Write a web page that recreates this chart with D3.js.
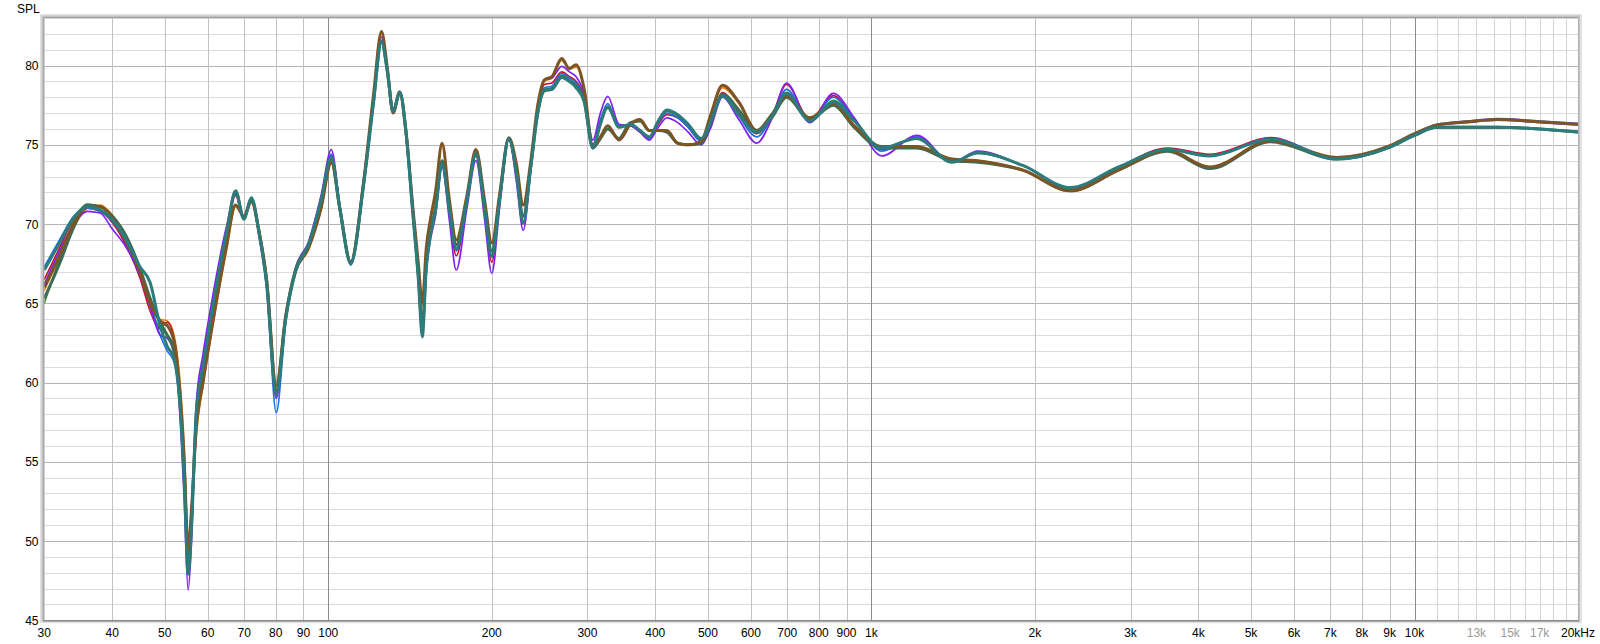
<!DOCTYPE html>
<html>
<head>
<meta charset="utf-8">
<script src="https://cdn.jsdelivr.net/npm/d3@7"></script>
<style>
  body { margin: 0; background: #fff; }
  text { font-family: "Liberation Sans", Arial, sans-serif; font-size: 12px; fill: #000; }
</style>
</head>
<body>
<script>
// frecuencias comunes a todas las medidas (Hz)
var freqs = [
  30, 32, 34, 36, 38, 40, 42.5, 45,
  47, 49, 50.5, 52, 53.2, 54.3, 55.2, 56,
  57.1, 58.8, 61.3, 64.9, 67.5, 69.9, 72.2, 74.5,
  77, 80.2, 83.5, 87, 92, 97, 101.3, 105,
  110, 116, 121, 125.3, 128.5, 131.6, 135.4, 139,
  143, 146.5, 149, 151.5, 154, 157.5, 162, 167,
  172, 180, 187, 194, 200, 207, 215, 222,
  228.5, 236, 243, 250, 258, 269, 278, 286,
  296, 307, 317, 327, 343, 360, 375, 390,
  405, 420, 440, 460, 486, 505, 532, 570,
  615, 655, 698, 770, 851, 930, 1045, 1213,
  1407, 1570, 1900, 2324, 2850, 3511, 4200, 5430,
  7200, 8936, 10000, 11000, 12500, 14200, 17000, 20000
]

// SPL (dB) de cada medida
var orange = [
  65.8, 67.9, 69.8, 71.0, 71.2, 70.6, 69.1, 67.1,
  65.2, 64.0, 63.9, 63.0, 60.5, 56.0, 50.0, 52.0,
  56.5, 59.8, 63.6, 68.3, 71.1, 70.5, 71.4, 69.7,
  66.7, 60.0, 64.3, 67.0, 68.4, 70.9, 73.8, 71.0,
  67.6, 72.5, 78.0, 82.0, 79.8, 77.0, 78.3, 75.8,
  71.2, 67.4, 64.8, 68.4, 70.1, 71.9, 75.0, 71.6,
  69.0, 71.8, 74.7, 71.5, 68.8, 72.0, 75.45, 73.8,
  71.2, 74.0, 77.5, 79.0, 79.2, 80.3, 79.8, 79.9,
  78.5, 74.9, 75.5, 76.2, 75.3, 76.3, 76.6, 75.9,
  75.9, 75.9, 75.1, 75.0, 75.2, 76.8, 78.6, 77.6,
  75.9, 76.9, 78.2, 76.7, 77.6, 76.2, 74.9, 74.9,
  74.1, 74.0, 73.4, 72.1, 73.4, 74.6, 73.6, 75.25,
  74.2, 74.9, 75.7, 76.25, 76.45, 76.6, 76.45, 76.3
]
var green = [
  65.0, 67.8, 70.2, 71.25, 71.1, 70.5, 69.0, 67.0,
  64.8, 63.4, 63.0, 62.3, 59.5, 54.8, 49.5, 51.8,
  57.4, 60.6, 64.3, 69.0, 72.1, 70.3, 71.6, 69.6,
  66.4, 59.4, 64.2, 67.1, 68.8, 71.5, 74.3, 71.0,
  67.5, 72.3, 77.5, 81.5, 79.6, 77.1, 78.3, 75.8,
  70.8, 66.6, 63.1, 67.2, 69.2, 70.8, 73.8, 71.0,
  68.4, 71.5, 74.4, 71.0, 68.0, 71.7, 75.4, 73.2,
  70.1, 73.6, 77.0, 78.5, 78.6, 79.4, 79.1, 78.8,
  77.8, 74.9, 76.4, 77.3, 76.1, 76.3, 75.9, 75.5,
  76.5, 77.1, 76.8, 76.2, 75.4, 76.4, 78.1, 76.9,
  75.8, 76.8, 78.3, 76.5, 77.8, 76.6, 74.8, 75.4,
  73.9, 74.45, 73.7, 72.3, 73.6, 74.7, 74.3, 75.35,
  74.1, 74.8, 75.6, 76.1, 76.1, 76.1, 76.0, 75.8
]
var red = [
  66.5, 68.5, 70.3, 71.0, 70.8, 70.1, 68.6, 66.6,
  64.5, 63.4, 63.8, 62.8, 59.5, 54.0, 48.5, 51.2,
  57.8, 61.0, 64.6, 69.2, 71.8, 70.3, 71.5, 69.4,
  66.2, 59.3, 64.1, 67.0, 68.7, 71.6, 74.4, 71.1,
  67.5, 72.3, 77.6, 81.6, 79.6, 77.0, 78.3, 75.8,
  70.8, 66.6, 63.2, 67.2, 69.1, 70.7, 73.7, 70.7,
  68.0, 71.3, 74.3, 70.7, 67.6, 71.5, 75.4, 73.0,
  70.0, 73.5, 77.1, 78.8, 78.9, 79.6, 79.3, 79.0,
  78.0, 75.0, 76.5, 77.4, 76.1, 76.2, 75.8, 75.4,
  76.3, 76.9, 76.7, 76.1, 75.3, 76.3, 78.3, 77.0,
  75.7, 76.8, 78.8, 76.6, 78.1, 76.6, 74.7, 75.4,
  73.9, 74.5, 73.7, 72.2, 73.6, 74.8, 74.4, 75.45,
  74.1, 74.8, 75.6, 76.1, 76.1, 76.1, 76.0, 75.8
]
var blue = [
  67.3, 69.0, 70.5, 71.0, 70.8, 70.2, 68.8, 66.8,
  65.0, 63.0, 62.0, 61.3, 58.8, 53.5, 48.3, 50.5,
  58.2, 61.3, 65.0, 69.5, 71.95, 70.3, 71.7, 69.5,
  66.1, 58.1, 63.8, 67.0, 68.8, 71.7, 74.4, 71.1,
  67.4, 72.3, 77.5, 81.6, 79.6, 77.0, 78.3, 75.8,
  70.8, 66.4, 62.8, 67.1, 69.1, 70.7, 73.8, 70.9,
  68.3, 71.4, 74.4, 70.9, 67.9, 71.6, 75.4, 73.1,
  70.0, 73.5, 77.0, 78.6, 78.7, 79.5, 79.2, 78.9,
  77.9, 75.0, 76.6, 77.6, 76.2, 76.2, 75.9, 75.4,
  76.4, 77.0, 76.7, 76.1, 75.2, 76.2, 78.2, 76.8,
  75.5, 76.7, 78.5, 76.5, 78.0, 76.6, 74.6, 75.5,
  73.9, 74.55, 73.7, 72.3, 73.6, 74.7, 74.3, 75.4,
  74.2, 74.9, 75.7, 76.3, 76.5, 76.65, 76.5, 76.35
]
var purple = [
  66.2, 68.3, 70.0, 70.8, 70.7, 69.7, 68.5, 66.8,
  64.8, 63.0, 62.8, 61.8, 58.5, 52.5, 46.9, 50.0,
  58.6, 61.8, 65.5, 69.8, 71.9, 70.4, 71.5, 69.3,
  66.0, 59.0, 64.0, 67.2, 68.9, 71.8, 74.7, 71.2,
  67.5, 72.3, 77.6, 81.8, 79.6, 77.0, 78.3, 75.8,
  70.8, 66.7, 63.5, 67.0, 68.9, 70.5, 73.6, 70.3,
  67.1, 71.0, 74.0, 70.3, 66.9, 71.2, 75.4, 72.7,
  69.6, 73.4, 77.2, 79.1, 79.2, 79.95, 79.6, 79.3,
  78.2, 75.3, 77.0, 78.05, 76.3, 76.2, 75.8, 75.3,
  76.1, 76.7, 76.4, 75.8, 75.0, 76.0, 78.0, 76.6,
  75.1, 76.6, 78.9, 76.4, 78.25, 76.7, 74.3, 75.6,
  73.9, 74.6, 73.7, 72.3, 73.5, 74.7, 74.3, 75.4,
  74.1, 74.8, 75.6, 76.2, 76.4, 76.55, 76.4, 76.25
]
var olive = [
  65.3, 67.5, 69.8, 71.2, 71.1, 70.5, 69.2, 67.2,
  65.3, 63.8, 63.0, 62.0, 59.3, 54.5, 49.0, 51.5,
  57.5, 60.5, 64.3, 69.0, 72.1, 70.4, 71.6, 69.6,
  66.4, 59.5, 64.2, 67.1, 68.7, 71.4, 74.1, 71.0,
  67.6, 72.4, 77.6, 81.5, 79.6, 77.1, 78.35, 75.9,
  70.9, 66.8, 63.5, 67.5, 69.4, 71.0, 74.0, 71.2,
  68.7, 71.6, 74.5, 71.2, 68.3, 71.8, 75.4, 73.4,
  70.5, 73.7, 77.0, 78.4, 78.5, 79.3, 79.0, 78.7,
  77.8, 74.8, 75.4, 76.0, 75.4, 76.4, 76.5, 75.9,
  75.9, 75.8, 75.1, 75.0, 75.1, 76.3, 78.2, 77.2,
  75.9, 76.7, 78.0, 76.6, 77.5, 76.1, 74.8, 74.8,
  74.0, 73.9, 73.4, 72.1, 73.4, 74.6, 73.5, 75.2,
  74.1, 74.8, 75.6, 76.1, 76.1, 76.1, 76.0, 75.8
]
var brown = [
  66.0, 68.0, 70.0, 71.1, 71.1, 70.4, 68.9, 67.0,
  65.0, 63.9, 63.6, 62.6, 59.8, 55.0, 49.5, 52.0,
  57.0, 60.0, 63.8, 68.5, 71.2, 70.5, 71.4, 69.6,
  66.5, 59.8, 64.2, 67.0, 68.5, 71.0, 73.9, 71.0,
  67.6, 72.5, 78.0, 82.15, 79.8, 77.0, 78.3, 75.8,
  71.2, 67.5, 65.0, 68.5, 70.2, 72.0, 75.1, 71.6,
  69.0, 71.8, 74.7, 71.5, 68.8, 72.0, 75.45, 73.8,
  71.2, 74.0, 77.5, 79.1, 79.3, 80.45, 79.8, 80.05,
  78.5, 74.9, 75.5, 76.2, 75.3, 76.3, 76.6, 75.9,
  75.9, 75.9, 75.1, 75.0, 75.2, 76.8, 78.75, 77.7,
  75.9, 76.9, 78.1, 76.7, 77.6, 76.2, 74.9, 74.9,
  74.1, 74.0, 73.4, 72.1, 73.4, 74.65, 73.6, 75.25,
  74.2, 74.9, 75.7, 76.25, 76.45, 76.6, 76.45, 76.3
]
var teal = [
  67.1, 68.8, 70.4, 71.1, 70.9, 70.3, 69.0, 67.3,
  66.3, 63.6, 62.3, 61.5, 59.0, 53.8, 47.9, 50.8,
  58.0, 61.0, 64.8, 69.4, 72.05, 70.3, 71.65, 69.5,
  66.2, 59.2, 64.0, 67.0, 68.7, 71.5, 74.2, 71.0,
  67.5, 72.3, 77.5, 81.5, 79.6, 77.1, 78.3, 75.8,
  70.8, 66.5, 62.9, 67.2, 69.2, 70.8, 73.8, 71.0,
  68.45, 71.5, 74.45, 71.0, 68.0, 71.7, 75.4, 73.2,
  70.1, 73.6, 77.0, 78.45, 78.5, 79.25, 79.0, 78.6,
  77.7, 74.8, 76.3, 77.4, 76.1, 76.3, 75.9, 75.5,
  76.5, 77.2, 76.9, 76.3, 75.4, 76.4, 78.1, 76.9,
  75.8, 76.8, 78.25, 76.5, 77.7, 76.5, 74.8, 75.4,
  73.9, 74.5, 73.7, 72.3, 73.6, 74.7, 74.3, 75.35,
  74.1, 74.8, 75.6, 76.1, 76.1, 76.1, 76.0, 75.8
]

var yTicks = [45, 50, 55, 60, 65, 70, 75, 80]
var xTicks = [30, 40, 50, 60, 70, 80, 90, 100, 200, 300, 400, 500, 600, 700, 800, 900,
              1000, 2000, 3000, 4000, 5000, 6000, 7000, 8000, 9000, 10000, 13000, 15000, 17000, 20000]
var xTickLabels = ["30", "40", "50", "60", "70", "80", "90", "100", "200", "300", "400", "500", "600", "700", "800", "900",
                   "1k", "2k", "3k", "4k", "5k", "6k", "7k", "8k", "9k", "10k", "13k", "15k", "17k", "20kHz"]

// orden de dibujo: las gruesas al final
var series = [
  {vals: orange, color: "#e8820c", w: 1.6},
  {vals: green,  color: "#2f8f2f", w: 1.6},
  {vals: red,    color: "#c8102e", w: 1.6},
  {vals: blue,   color: "#1f6fe0", w: 1.6},
  {vals: purple, color: "#7f22f0", w: 1.7},
  {vals: olive,  color: "#3e6b55", w: 3},
  {vals: brown,  color: "#7d5423", w: 3},
  {vals: teal,   color: "#2c7c7c", w: 3}
]

var W = 1600, H = 644
var pL = 44.3, pR = 1578, pT = 18, pB = 620.3

var x = d3.scaleLog().domain([30, 20000]).range([pL, pR])
var y = d3.scaleLinear().domain([45, 83]).range([pB, pT])

var svg = d3.select("body").append("svg")
    .attr("width", W)
    .attr("height", H)

// marco con sombra
svg.append("rect").attr("x", 40).attr("y", 14).attr("width", pR - 40 + 4).attr("height", pB - 14 + 3)
    .attr("fill", "#e2e2e2")
svg.append("rect").attr("x", 41.5).attr("y", 15.5).attr("width", pR - 41.5 + 2).attr("height", pB - 15.5 + 1.5)
    .attr("fill", "#c4c4c4")
svg.append("rect").attr("x", pL).attr("y", pT).attr("width", pR - pL).attr("height", pB - pT)
    .attr("fill", "#fff")

var grid = svg.append("g")

// líneas horizontales cada 1 dB
d3.range(46, 84).forEach(function(v) {
    grid.append("line")
        .attr("x1", pL).attr("x2", pR)
        .attr("y1", Math.round(y(v)) + 0.5).attr("y2", Math.round(y(v)) + 0.5)
        .attr("stroke", v % 5 == 0 ? "#b4b4b4" : "#dcdcdc")
        .attr("stroke-width", 1)
})

// líneas verticales
var vgrid = []
;[10, 100, 1000].forEach(function(dec) {
    for (var k = 1; k <= 9; k++) {
        var f = dec * k
        if (f > 30 && f < 10000) vgrid.push({f: f, c: k == 1 ? "#8c8c8c" : "#c2c2c2"})
    }
})
vgrid.push({f: 10000, c: "#8c8c8c"})
for (var k = 11; k <= 19; k++) vgrid.push({f: k * 1000, c: "#d4d4d4"})

grid.selectAll("line.v")
    .data(vgrid)
    .enter()
    .append("line")
    .attr("class", "v")
    .attr("x1", d => Math.round(x(d.f)) + 0.5).attr("x2", d => Math.round(x(d.f)) + 0.5)
    .attr("y1", pT).attr("y2", pB)
    .attr("stroke", d => d.c)

// bordes
svg.append("line").attr("x1", pL - 1).attr("x2", pR + 1).attr("y1", pB + 0.5).attr("y2", pB + 0.5)
    .attr("stroke", "#8a8a8a").attr("stroke-width", 1.5)
svg.append("line").attr("x1", pR + 0.5).attr("x2", pR + 0.5).attr("y1", pT).attr("y2", pB)
    .attr("stroke", "#b0b0b0")
svg.append("line").attr("x1", pL - 0.5).attr("x2", pL - 0.5).attr("y1", pT).attr("y2", pB)
    .attr("stroke", "#9a9a9a")
svg.append("line").attr("x1", pL).attr("x2", pR).attr("y1", pT - 0.5).attr("y2", pT - 0.5)
    .attr("stroke", "#9a9a9a")

// curvas
svg.append("clipPath").attr("id", "clip")
    .append("rect").attr("x", pL).attr("y", pT).attr("width", pR - pL).attr("height", pB - pT)

var linea = d3.line()
    .x((d, i) => x(freqs[i]))
    .y(d => y(d))
    .curve(d3.curveMonotoneX)

svg.append("g")
    .attr("clip-path", "url(#clip)")
    .selectAll("path")
    .data(series)
    .enter()
    .append("path")
    .attr("d", d => linea(d.vals))
    .attr("fill", "none")
    .attr("stroke", d => d.color)
    .attr("stroke-width", d => d.w)
    .attr("stroke-linejoin", "round")

// etiquetas
svg.append("text").attr("x", 17).attr("y", 12.5).text("SPL")

svg.append("g")
    .selectAll("text")
    .data(yTicks)
    .enter()
    .append("text")
    .attr("x", 38.5)
    .attr("y", d => y(d) + 4.5)
    .attr("text-anchor", "end")
    .text(d => d)

svg.append("g")
    .selectAll("text")
    .data(xTicks)
    .enter()
    .append("text")
    .attr("x", d => x(d))
    .attr("y", 637)
    .attr("text-anchor", "middle")
    .style("fill", d => (d == 13000 || d == 15000 || d == 17000) ? "#9a9a9a" : "#000")
    .text((d, i) => xTickLabels[i])
</script>
</body>
</html>
